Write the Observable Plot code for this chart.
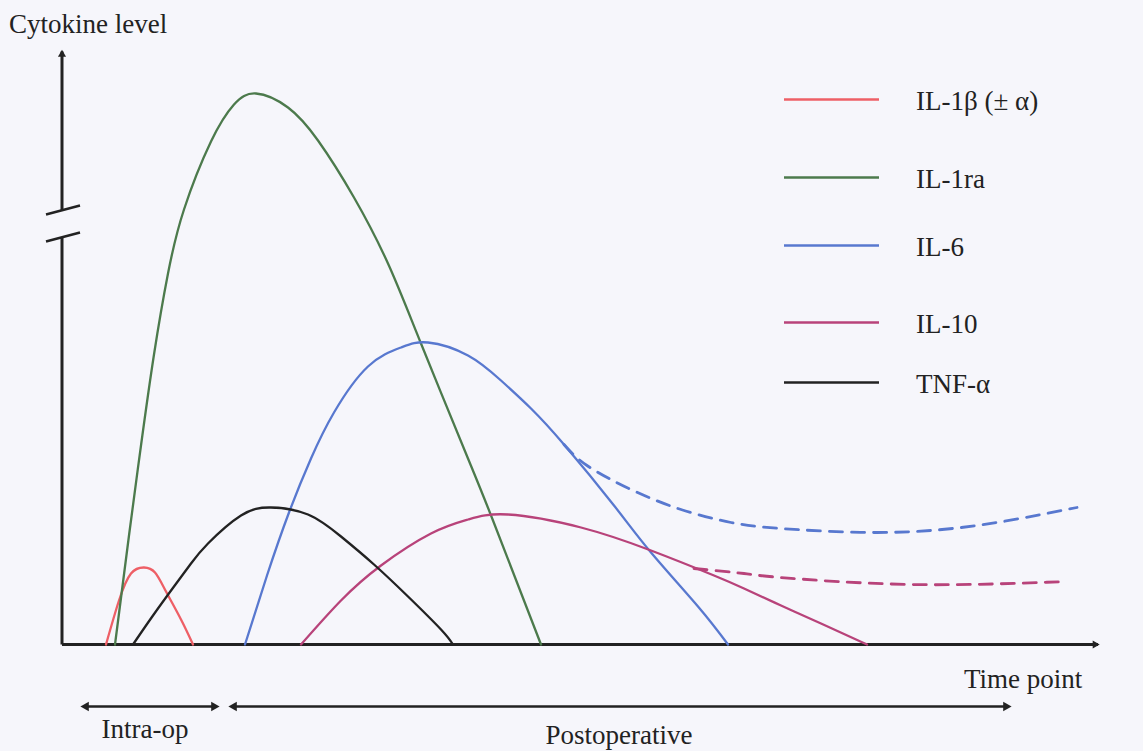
<!DOCTYPE html>
<html>
<head>
<meta charset="utf-8">
<script src="https://cdn.jsdelivr.net/npm/d3@7"></script>
<script src="https://cdn.jsdelivr.net/npm/@observablehq/plot@0.6"></script>
<style>
  html, body { margin: 0; padding: 0; background: #f6f6fb; }
  #chart { width: 1143px; height: 751px; overflow: hidden; }
</style>
</head>
<body>
<div id="chart"></div>
<script>
// ---- Series (schematic time units vs. schematic cytokine level) ----
const seriesNames  = ["IL-1β (± α)", "IL-1ra", "IL-6", "IL-10", "TNF-α"];
const seriesColors = ["#ee5f66", "#4c7a4c", "#5878cf", "#b8437a", "#222222"];

const il1bTime  = [4.4, 5.7, 6.9, 8.2, 9.3, 10.4, 11.9, 13.1];
const il1bLevel = [0, 4.4, 7.1, 7.7, 7.2, 5.3, 2.5, 0];

const il1raTime  = [5.3, 6.7, 7.9, 9.2, 10.6, 12.2, 14.9, 17.2, 19.4, 22.6, 25.6, 29.2, 32.6, 35.9, 40.6, 43.1, 47.9];
const il1raLevel = [0, 10.9, 19.9, 29.0, 37.1, 43.5, 50.3, 54.0, 55.1, 53.7, 50.4, 44.7, 38.1, 30.1, 18.6, 12.4, 0];

const il6Time  = [18.3, 20.5, 22.7, 24.9, 27.2, 30.6, 33.9, 36.6, 40.6, 43.9, 46.9, 50.2, 55.2, 58.9, 63.6, 66.6];
const il6Level = [0, 6.9, 13.2, 18.6, 23.2, 27.8, 29.7, 30.2, 28.9, 26.4, 23.6, 20.0, 13.9, 9.2, 3.8, 0];

const il10Time  = [23.9, 27.9, 31.9, 36.9, 40.6, 44.6, 51.9, 58.9, 65.2, 68.2, 71.9, 75.9, 80.5];
const il10Level = [0, 4.4, 7.9, 11.1, 12.5, 13.0, 11.7, 9.4, 6.9, 5.6, 3.9, 2.1, 0];

const tnfTime  = [7.1, 9.1, 11.2, 12.9, 14.6, 17.9, 20.9, 24.6, 27.9, 31.2, 34.6, 37.9, 39.1];
const tnfLevel = [0, 2.9, 5.8, 8.1, 10.1, 12.9, 13.7, 13.0, 10.8, 8.0, 4.8, 1.5, 0];

// dashed (sustained) continuations
const il6TailTime   = [50.2, 52.5, 56.9, 61.9, 66.9, 71.9, 81.5, 91.5, 101.5];
const il6TailLevel  = [20.0, 17.9, 15.5, 13.5, 12.2, 11.6, 11.2, 11.9, 13.7];
const il10TailTime  = [63.2, 68.2, 71.9, 84.9, 100.5];
const il10TailLevel = [7.6, 7.1, 6.7, 6.0, 6.3];

// ---- Legend ----
const legendLevels = [54.5, 46.7, 39.9, 32.2, 26.2];
const legendLineStart = 72.2, legendLineEnd = 81.7, legendTextAt = 85.4;

// ---- Axes / annotation geometry in data units ----
const timeAxisEnd = 103.9;
const levelAxisTop = 59.6;
const breakLow = 40.7, breakHigh = 43.4;
const phaseLevel = -6.2;
const phaseLabels = ["Intra-op", "Postoperative"];
const phaseStart = [1.9, 16.7];
const phaseEnd   = [15.7, 94.9];
const phaseLabelTime  = [8.3, 55.7];
const phaseLabelLevel = [-9.3, -9.9];

const rows = [];
function addSeries(name, xs, ys, target) {
  xs.forEach((x, i) => target.push({series: name, time: x, level: ys[i]}));
}
addSeries(seriesNames[0], il1bTime, il1bLevel, rows);
addSeries(seriesNames[1], il1raTime, il1raLevel, rows);
addSeries(seriesNames[2], il6Time, il6Level, rows);
addSeries(seriesNames[3], il10Time, il10Level, rows);
addSeries(seriesNames[4], tnfTime, tnfLevel, rows);
const tails = [];
addSeries(seriesNames[2], il6TailTime, il6TailLevel, tails);
addSeries(seriesNames[3], il10TailTime, il10TailLevel, tails);

const legend = seriesNames.map((s, i) => ({series: s, level: legendLevels[i]}));

const axisSegs = [
  {x1: 0, y1: 0, x2: timeAxisEnd - 0.3, y2: 0},
  {x1: 0, y1: 0, x2: 0, y2: breakLow},
  {x1: 0, y1: breakHigh, x2: 0, y2: levelAxisTop - 0.3}
];
const breakMarks = [
  {x1: -1.6, y1: breakHigh - 0.4, x2: 1.8, y2: breakHigh + 0.5},
  {x1: -1.6, y1: breakLow - 0.4, x2: 1.8, y2: breakLow + 0.5}
];
const phaseSegs = phaseLabels.map((p, i) => ({x1: phaseStart[i] + 0.3, x2: phaseEnd[i] - 0.3, y: phaseLevel}));
const rightHeads = [{x: timeAxisEnd, y: 0, r: 4.3}].concat(phaseEnd.map(e => ({x: e, y: phaseLevel, r: 3.6})));
const leftHeads = phaseStart.map(s => ({x: s, y: phaseLevel, r: 3.6}));
const upHeads = [{x: 0, y: levelAxisTop, r: 4.3}];

const ink = "#222";
const font = "Liberation Serif, Times New Roman, serif";
const fs = 27;

const chart = Plot.plot({
  width: 1143,
  height: 751,
  marginLeft: 61.5,
  marginRight: 41.5,
  marginTop: 50,
  marginBottom: 107,
  x: {domain: [0, 104], axis: null},
  y: {domain: [0, 59.4], axis: null},
  color: {domain: seriesNames, range: seriesColors},
  style: {background: "#f6f6fb", fontFamily: font, overflow: "visible"},
  marks: [
    // axes
    Plot.link(axisSegs, {x1: "x1", y1: "y1", x2: "x2", y2: "y2", stroke: ink, strokeWidth: 3}),
    Plot.link(breakMarks, {x1: "x1", y1: "y1", x2: "x2", y2: "y2", stroke: ink, strokeWidth: 2.5}),
    Plot.dot(rightHeads.slice(0, 1), {x: "x", y: "y", r: "r", symbol: "triangle", rotate: 90, fill: ink, stroke: null, dx: -6}),
    Plot.dot(upHeads, {x: "x", y: "y", r: "r", symbol: "triangle", rotate: 0, fill: ink, stroke: null, dy: 6}),
    // phase arrows
    Plot.link(phaseSegs, {x1: "x1", x2: "x2", y1: "y", y2: "y", stroke: ink, strokeWidth: 2.5}),
    Plot.dot(rightHeads.slice(1), {x: "x", y: "y", r: 3.6, symbol: "triangle", rotate: 90, fill: ink, stroke: null, dx: -5}),
    Plot.dot(leftHeads, {x: "x", y: "y", r: 3.6, symbol: "triangle", rotate: -90, fill: ink, stroke: null, dx: 5}),
    // curves
    Plot.line(tails, {x: "time", y: "level", z: "series", stroke: "series", curve: "natural", strokeWidth: 2.8, strokeDasharray: "13,9"}),
    Plot.line(rows, {x: "time", y: "level", z: "series", stroke: "series", curve: "natural", strokeWidth: 2.3}),
    // legend
    Plot.link(legend, {x1: legendLineStart, x2: legendLineEnd, y1: "level", y2: "level", stroke: "series", strokeWidth: 2.4}),
    Plot.text(legend, {x: legendTextAt, y: "level", text: "series", textAnchor: "start", lineAnchor: "middle", dy: 1.5, fontSize: fs, fill: ink}),
    // labels
    Plot.text(["Cytokine level"], {x: -5.3, y: 61.2, text: d => d, textAnchor: "start", lineAnchor: "bottom", fontSize: 27, fill: ink}),
    Plot.text(["Time point"], {x: 90.2, y: -4.3, text: d => d, textAnchor: "start", lineAnchor: "bottom", fontSize: fs, fill: ink}),
    Plot.text(phaseLabels, {x: (d, i) => phaseLabelTime[i], y: (d, i) => phaseLabelLevel[i], text: d => d, textAnchor: "middle", lineAnchor: "bottom", fontSize: fs, fill: ink})
  ]
});
document.getElementById("chart").appendChild(chart);
</script>
</body>
</html>
